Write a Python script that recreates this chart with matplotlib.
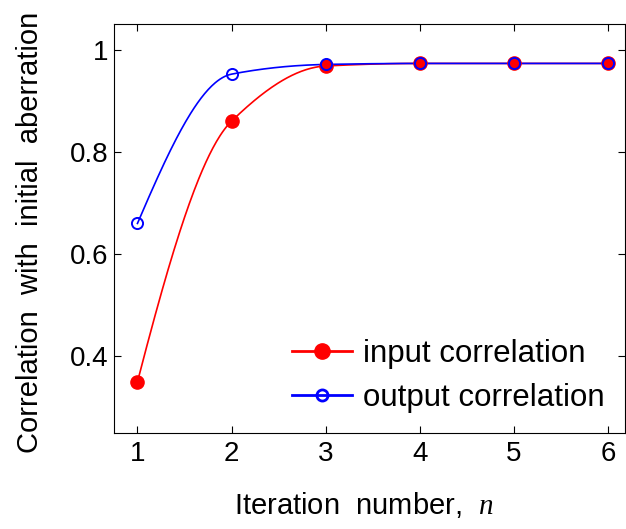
import numpy as np
import matplotlib
matplotlib.use("Agg")
import matplotlib.pyplot as plt

plt.rcParams['font.family'] = ['Liberation Sans', 'DejaVu Sans']
plt.rcParams['mathtext.fontset'] = 'custom'
plt.rcParams['mathtext.it'] = 'Liberation Serif:italic'

iterations = [1, 2, 3, 4, 5, 6]
input_corr = [0.35, 0.86, 0.968, 0.973, 0.973, 0.973]
output_corr = [0.66, 0.952, 0.971, 0.973, 0.973, 0.973]


def pchip(x, y, xs):
    # shape preserving cubic, like matlab's pchip smoothing
    x = np.asarray(x, float)
    y = np.asarray(y, float)
    h = np.diff(x)
    d = np.diff(y) / h
    n = len(x)
    m = np.zeros(n)
    for k in range(1, n - 1):
        if d[k - 1] * d[k] > 0:
            w1 = 2 * h[k] + h[k - 1]
            w2 = h[k] + 2 * h[k - 1]
            m[k] = (w1 + w2) / (w1 / d[k - 1] + w2 / d[k])
    m[0] = ((2 * h[0] + h[1]) * d[0] - h[0] * d[1]) / (h[0] + h[1])
    if np.sign(m[0]) != np.sign(d[0]):
        m[0] = 0
    elif np.sign(d[0]) != np.sign(d[1]) and abs(m[0]) > abs(3 * d[0]):
        m[0] = 3 * d[0]
    m[-1] = ((2 * h[-1] + h[-2]) * d[-1] - h[-1] * d[-2]) / (h[-1] + h[-2])
    if np.sign(m[-1]) != np.sign(d[-1]):
        m[-1] = 0
    idx = np.clip(np.searchsorted(x, xs) - 1, 0, n - 2)
    t = (xs - x[idx]) / h[idx]
    h00 = 2 * t**3 - 3 * t**2 + 1
    h10 = t**3 - 2 * t**2 + t
    h01 = -2 * t**3 + 3 * t**2
    h11 = t**3 - t**2
    return (h00 * y[idx] + h10 * h[idx] * m[idx]
            + h01 * y[idx + 1] + h11 * h[idx] * m[idx + 1])


fig = plt.figure(figsize=(6.26, 5.29), dpi=100)
ax = fig.add_axes([0.182, 0.1815, 0.816, 0.773])

xs = np.linspace(iterations[0], iterations[-1], 400)
ax.plot(xs, pchip(iterations, input_corr, xs), color='red', lw=1.2)
ax.plot(xs, pchip(iterations, output_corr, xs), color='blue', lw=1.2)
ax.plot(iterations, input_corr, 'o', color='red', ms=9.5, mec='red')
ax.plot(iterations, output_corr, 'o', color='blue', ms=8, mfc='none', mew=1.4)

# legend handles
ax.plot([], [], '-o', color='red', ms=11, lw=2, label='input correlation')
ax.plot([], [], '-o', color='blue', ms=8, mfc='none', mew=2, lw=2,
        label='output correlation')
ax.legend(loc='lower right', frameon=False, fontsize=22.5, handlelength=1.9,
          borderaxespad=0.35, handletextpad=0.35, labelspacing=0.45,
          borderpad=0.3)

ax.set_xlim(0.75, 6.18)
ax.set_ylim(0.25, 1.05)
ax.set_xticks(iterations)
ax.set_yticks([0.4, 0.6, 0.8, 1.0])
ax.set_yticklabels(['0.4', '0.6', '0.8', '1'])
ax.tick_params(direction='in', top=True, right=True, labelsize=20,
               length=5)
ax.tick_params(axis='x', pad=6)
ax.tick_params(axis='y', pad=4)
ax.set_xlabel(r'Iteration  number,  $\mathit{n}$', fontsize=21)
ax.xaxis.set_label_coords(0.49, -0.14)
ax.set_ylabel('Correlation  with  initial  aberration', fontsize=21)
ax.yaxis.set_label_coords(-0.136, 0.49)

fig.savefig('out.png', dpi=100)
